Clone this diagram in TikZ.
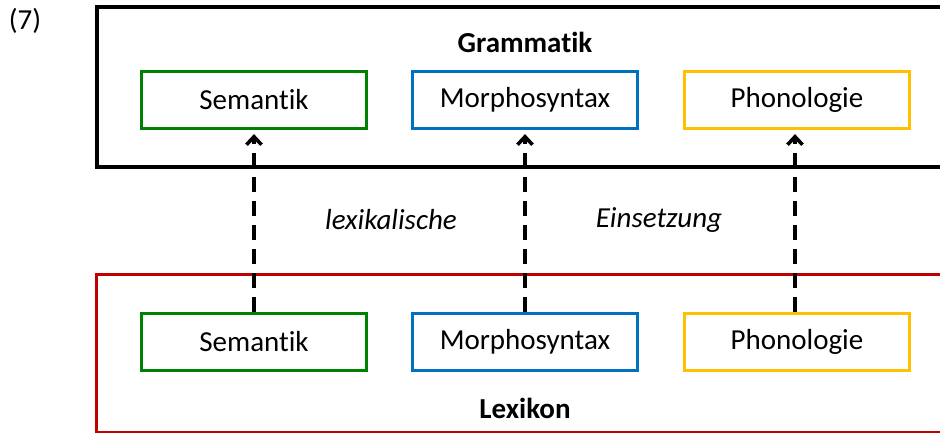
\documentclass[tikz,border=0pt]{standalone}
\usepackage{fontspec}
\setmainfont[Ligatures={NoCommon}]{Carlito}
\usetikzlibrary{arrows.meta}
\definecolor{cgreen}{RGB}{0,128,0}
\definecolor{cblue}{RGB}{0,112,192}
\definecolor{cgold}{RGB}{255,192,0}
\definecolor{cred}{RGB}{192,0,0}
\tikzset{
  comp/.style={draw=#1, line width=3.2pt, inner sep=0pt, minimum width=225pt, minimum height=57pt, font=\fontsize{29}{33}\selectfont},
  insert/.style={line width=3.6pt, dash pattern=on 15pt off 9pt, -{Straight Barb[length=8pt,width=15pt,line width=3.6pt]}, shorten >=4pt},
  label/.style={font=\fontsize{29}{33}\selectfont},
}
\begin{document}
\begin{tikzpicture}[x=1pt,y=-1pt]
\useasboundingbox (0,0) rectangle (940,432);
\clip (0,0) rectangle (940,432);
\fill[white] (0,0) rectangle (940,432);
% outer frames
\draw[line width=4pt] (97,7) rectangle (980,167);
\draw[cred, line width=3pt] (96,274) rectangle (980,432);
% labels
\node[label] (num) at (25,21) {(7)};
\node[label, font=\fontsize{29}{33}\selectfont\bfseries] (gram) at (525,42) {Grammatik};
\node[label, font=\fontsize{29}{33}\selectfont\bfseries] (lex) at (525,408) {Lexikon};
\node[label, font=\fontsize{29}{33}\selectfont\itshape] (lexi) at (391,220) {lexikalische};
\node[label, font=\fontsize{29}{33}\selectfont\itshape] (eins) at (659,220) {Einsetzung};
% grammar components
\node[comp=cgreen] (gs) at (254,100) {Semantik};
\node[comp=cblue]  (gm) at (525,100) {Morphosyntax};
\node[comp=cgold]  (gp) at (797,100) {Phonologie};
% lexicon components
\node[comp=cgreen] (ls) at (254,342) {Semantik};
\node[comp=cblue]  (lm) at (525,342) {Morphosyntax};
\node[comp=cgold]  (lp) at (797,342) {Phonologie};
% connectors
\draw[insert] (ls.north) -- (gs.south);
\draw[insert] (lm.north) -- (gm.south);
\draw[insert] ([xshift=-2pt]lp.north) -- ([xshift=-2pt]gp.south);
\end{tikzpicture}
\end{document}
